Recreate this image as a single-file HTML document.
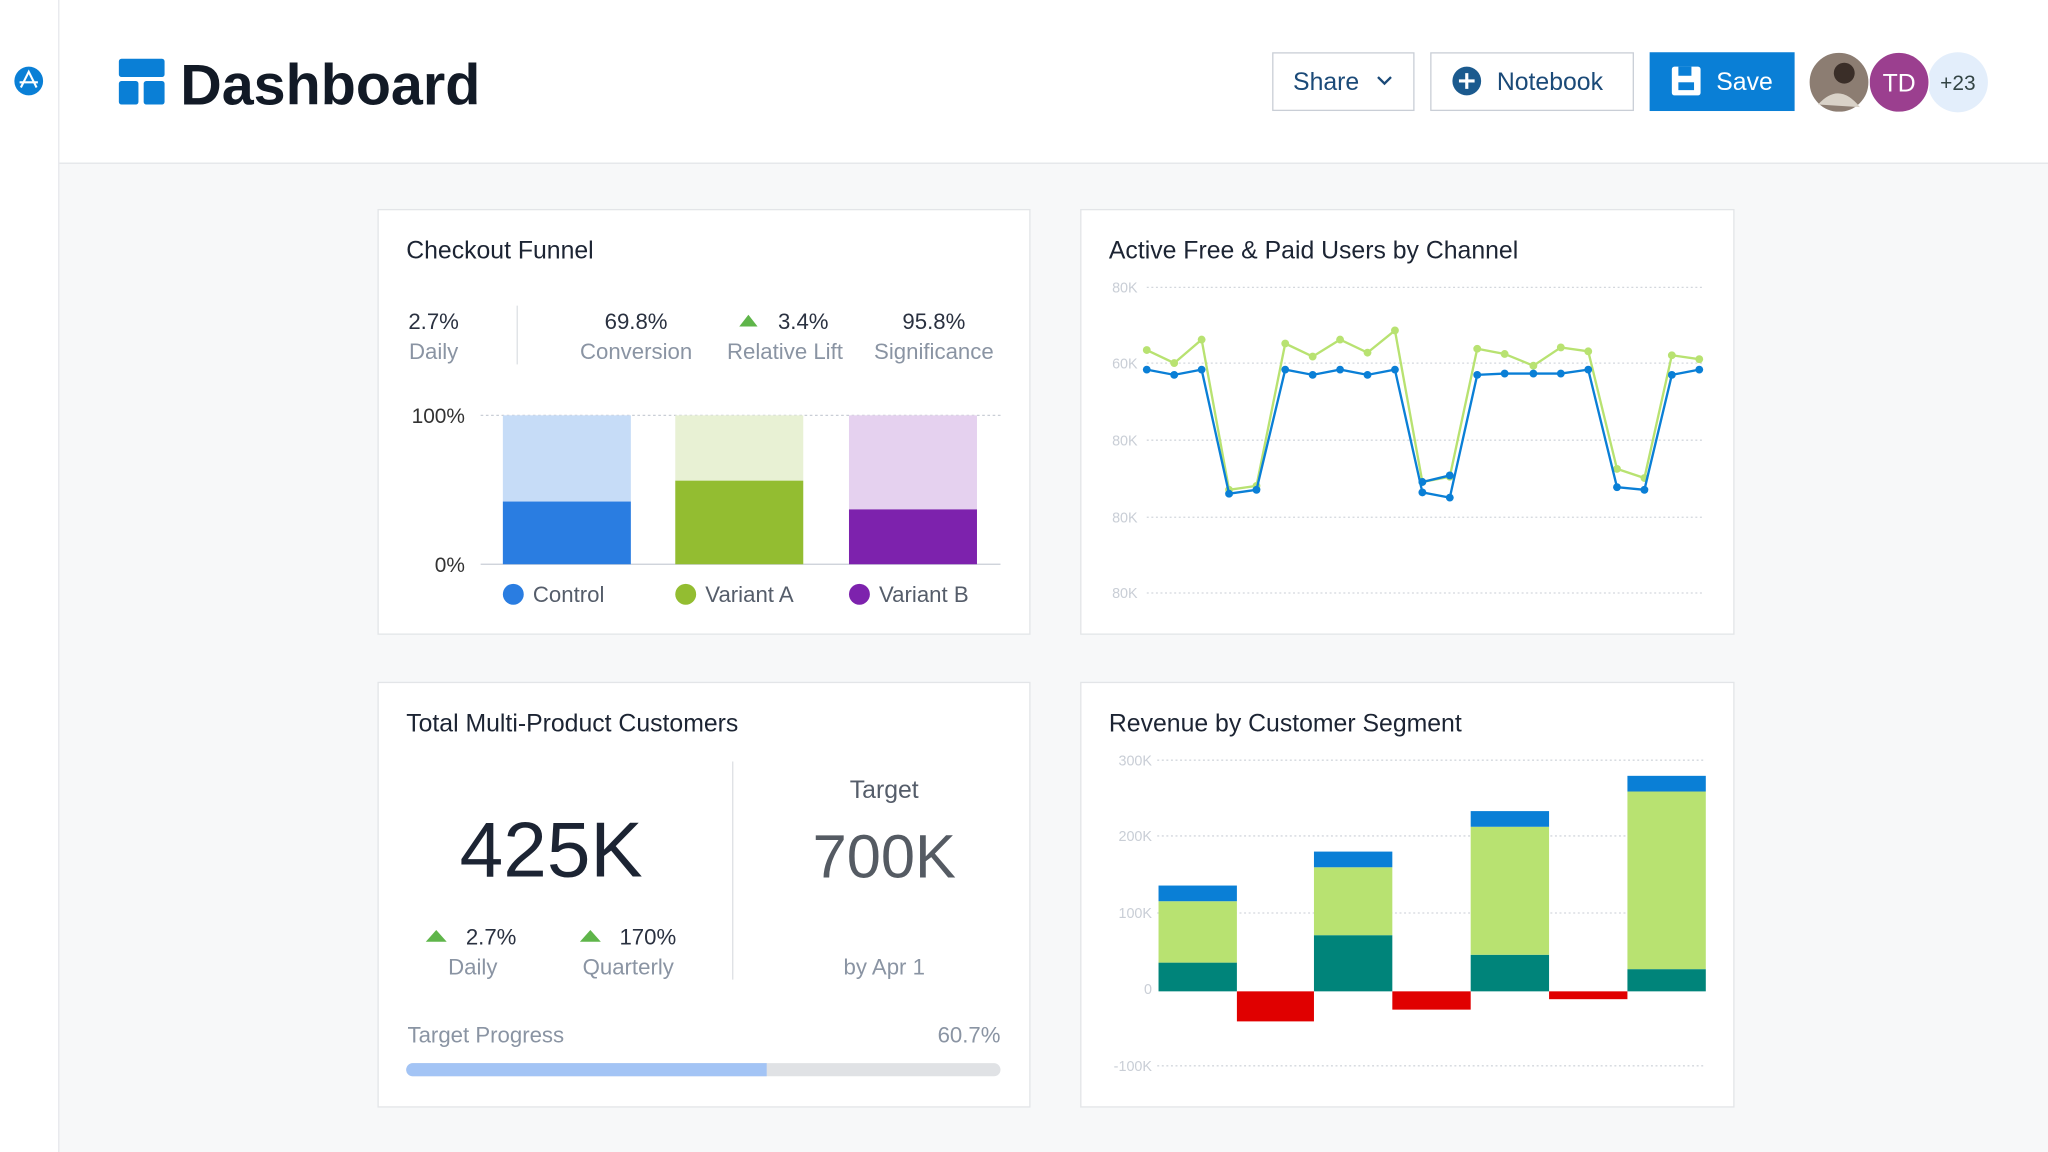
<!DOCTYPE html>
<html><head><meta charset="utf-8"><style>
html,body{margin:0;padding:0;background:#f7f8f9;}
svg{display:block;font-family:"Liberation Sans",sans-serif;}
</style></head><body>
<svg width="2048" height="1152" viewBox="0 0 1568 882" xmlns="http://www.w3.org/2000/svg">
<rect x="0" y="0" width="1568" height="882" fill="#f7f8f9"/>
<rect x="0" y="0" width="1568" height="125" fill="#fff"/>
<rect x="0" y="0" width="45" height="882" fill="#fff"/>
<line x1="45" y1="0" x2="45" y2="882" stroke="#e6e8eb" stroke-width="1"/>
<line x1="45" y1="125" x2="1568" y2="125" stroke="#e6e8eb" stroke-width="1.2"/>
<!-- sidebar icon -->
<circle cx="22" cy="62" r="11" fill="#0a7fd6"/>
<path d="M16 67 L22 55 L28 67 M15 63 H29" stroke="#fff" stroke-width="1.6" fill="none"/>
<!-- logo -->
<rect x="91" y="45" width="35" height="14" rx="2" fill="#0a7fd6"/>
<rect x="91" y="62" width="15" height="18" rx="2" fill="#0a7fd6"/>
<rect x="110" y="62" width="16" height="18" rx="2" fill="#0a7fd6"/>
<text x="138" y="80" font-size="44" font-weight="bold" fill="#121a26">Dashboard</text>
<!-- buttons -->
<rect x="974.5" y="40.5" width="108" height="44" fill="#fff" stroke="#c9ced6"/>
<text x="990" y="69" font-size="19" fill="#1b4a78">Share</text>
<path d="M1055 59 L1060 64 L1065 59" stroke="#1b4a78" stroke-width="1.8" fill="none"/>
<rect x="1095.5" y="40.5" width="155" height="44" fill="#fff" stroke="#c9ced6"/>
<circle cx="1123" cy="62" r="11" fill="#1b5a8e"/>
<path d="M1123 56 V68 M1117 62 H1129" stroke="#fff" stroke-width="2.4"/>
<text x="1146" y="69" font-size="19" fill="#1b4a78">Notebook</text>
<rect x="1263" y="40" width="111" height="45" fill="#0a7fd6"/>
<rect x="1280" y="51" width="22" height="22" rx="2" fill="#fff"/>
<rect x="1285" y="51" width="10" height="7" fill="#0a7fd6"/>
<rect x="1285" y="63" width="12" height="6" fill="#0a7fd6"/>
<text x="1314" y="69" font-size="19" fill="#fff">Save</text>
<circle cx="1499" cy="63" r="23" fill="#e3eefb"/>
<text x="1499" y="69" font-size="16" fill="#344" text-anchor="middle">+23</text>
<circle cx="1454" cy="63" r="23" fill="#9b3f8f" stroke="#fff" stroke-width="1"/>
<text x="1454" y="70" font-size="19" fill="#fff" text-anchor="middle">TD</text>
<circle cx="1408" cy="63" r="23" fill="#8c7d72" stroke="#fff" stroke-width="1"/>
<circle cx="1412" cy="56" r="8" fill="#3a2e28"/>
<path d="M1392 80 Q1408 62 1424 82" fill="#d9d2c8"/>

<!-- cards -->
<rect x="289.5" y="160.5" width="499" height="325" fill="#fff" stroke="#e3e5e8"/>
<rect x="827.5" y="160.5" width="500" height="325" fill="#fff" stroke="#e3e5e8"/>
<rect x="289.5" y="522.5" width="499" height="325" fill="#fff" stroke="#e3e5e8"/>
<rect x="827.5" y="522.5" width="500" height="325" fill="#fff" stroke="#e3e5e8"/>

<!-- Card 1 -->
<text x="311" y="198" font-size="19" fill="#1c2433">Checkout Funnel</text>
<g font-size="17" text-anchor="middle">
<text x="332" y="252" fill="#2a3140">2.7%</text>
<text x="332" y="275" fill="#8a94a3">Daily</text>
<text x="487" y="252" fill="#2a3140">69.8%</text>
<text x="487" y="275" fill="#8a94a3">Conversion</text>
<text x="615" y="252" fill="#2a3140">3.4%</text>
<text x="601" y="275" fill="#8a94a3">Relative Lift</text>
<text x="715" y="252" fill="#2a3140">95.8%</text>
<text x="715" y="275" fill="#8a94a3">Significance</text>
</g>
<path d="M566 250 L573 241 L580 250 Z" fill="#5fb54a"/>
<line x1="396" y1="234" x2="396" y2="279" stroke="#dde0e4"/>
<text x="356" y="324" font-size="16" fill="#333" text-anchor="end">100%</text>
<text x="356" y="438" font-size="16" fill="#333" text-anchor="end">0%</text>
<line x1="368" y1="318" x2="766" y2="318" stroke="#c9ced6" stroke-dasharray="2,2"/>
<line x1="368" y1="432" x2="766" y2="432" stroke="#c9ced6"/>
<rect x="385" y="318" width="98" height="66" fill="#c6dcf7"/>
<rect x="385" y="384" width="98" height="48" fill="#2a7de1"/>
<rect x="517" y="318" width="98" height="50" fill="#e8f1d4"/>
<rect x="517" y="368" width="98" height="64" fill="#93bd31"/>
<rect x="650" y="318" width="98" height="72" fill="#e5d1ef"/>
<rect x="650" y="390" width="98" height="42" fill="#7d22ad"/>
<g font-size="17" fill="#555d6a">
<circle cx="393" cy="455" r="8" fill="#2a7de1"/><text x="408" y="461">Control</text>
<circle cx="525" cy="455" r="8" fill="#93bd31"/><text x="540" y="461">Variant A</text>
<circle cx="658" cy="455" r="8" fill="#7d22ad"/><text x="673" y="461">Variant B</text>
</g>

<!-- Card 2 -->
<text x="849" y="198" font-size="19" fill="#1c2433">Active Free &amp; Paid Users by Channel</text>
<g font-size="11" fill="#c9ced6" text-anchor="end">
<text x="871" y="224">80K</text><text x="871" y="282">60K</text><text x="871" y="341">80K</text><text x="871" y="400">80K</text><text x="871" y="458">80K</text>
</g>
<g stroke="#d3d7dd" stroke-dasharray="1.5,2">
<line x1="878" y1="220" x2="1305" y2="220"/><line x1="878" y1="278" x2="1305" y2="278"/><line x1="878" y1="337" x2="1305" y2="337"/><line x1="878" y1="396" x2="1305" y2="396"/><line x1="878" y1="454" x2="1305" y2="454"/>
</g>
<polyline fill="none" stroke="#b8e271" stroke-width="1.8" points="878,268 899,278 920,260 941,375 962,372 984,263 1005,273 1026,260 1047,270 1068,253 1089,369 1110,365 1131,267 1152,271 1174,280 1195,266 1216,269 1238,359 1259,366 1280,272 1301,275"/>
<g fill="#b8e271">
<circle cx="878" cy="268" r="3"/><circle cx="899" cy="278" r="3"/><circle cx="920" cy="260" r="3"/><circle cx="941" cy="375" r="3"/><circle cx="962" cy="372" r="3"/><circle cx="984" cy="263" r="3"/><circle cx="1005" cy="273" r="3"/><circle cx="1026" cy="260" r="3"/><circle cx="1047" cy="270" r="3"/><circle cx="1068" cy="253" r="3"/><circle cx="1089" cy="369" r="3"/><circle cx="1110" cy="365" r="3"/><circle cx="1131" cy="267" r="3"/><circle cx="1152" cy="271" r="3"/><circle cx="1174" cy="280" r="3"/><circle cx="1195" cy="266" r="3"/><circle cx="1216" cy="269" r="3"/><circle cx="1238" cy="359" r="3"/><circle cx="1259" cy="366" r="3"/><circle cx="1280" cy="272" r="3"/><circle cx="1301" cy="275" r="3"/>
</g>
<polyline fill="none" stroke="#0a7fd6" stroke-width="1.8" points="878,283 899,287 920,283 941,378 962,375 984,283 1005,287 1026,283 1047,287 1068,283 1089,377 1110,381 1131,287 1152,286 1174,286 1195,286 1216,283 1238,373 1259,375 1280,287 1301,283"/>
<polyline fill="none" stroke="#0a7fd6" stroke-width="1.8" points="1089,369 1110,364"/>
<g fill="#0a7fd6">
<circle cx="878" cy="283" r="3"/><circle cx="899" cy="287" r="3"/><circle cx="920" cy="283" r="3"/><circle cx="941" cy="378" r="3"/><circle cx="962" cy="375" r="3"/><circle cx="984" cy="283" r="3"/><circle cx="1005" cy="287" r="3"/><circle cx="1026" cy="283" r="3"/><circle cx="1047" cy="287" r="3"/><circle cx="1068" cy="283" r="3"/><circle cx="1089" cy="377" r="3"/><circle cx="1110" cy="381" r="3"/><circle cx="1089" cy="369" r="3"/><circle cx="1110" cy="364" r="3"/><circle cx="1131" cy="287" r="3"/><circle cx="1152" cy="286" r="3"/><circle cx="1174" cy="286" r="3"/><circle cx="1195" cy="286" r="3"/><circle cx="1216" cy="283" r="3"/><circle cx="1238" cy="373" r="3"/><circle cx="1259" cy="375" r="3"/><circle cx="1280" cy="287" r="3"/><circle cx="1301" cy="283" r="3"/>
</g>

<!-- Card 3 -->
<text x="311" y="560" font-size="19" fill="#1c2433">Total Multi-Product Customers</text>
<text x="422" y="671" font-size="60" fill="#1c2433" text-anchor="middle">425K</text>
<path d="M326 721 L334 712 L342 721 Z" fill="#5fb54a"/>
<text x="376" y="723" font-size="17" fill="#2a3140" text-anchor="middle">2.7%</text>
<text x="362" y="746" font-size="17" fill="#8a94a3" text-anchor="middle">Daily</text>
<path d="M444 721 L452 712 L460 721 Z" fill="#5fb54a"/>
<text x="496" y="723" font-size="17" fill="#2a3140" text-anchor="middle">170%</text>
<text x="481" y="746" font-size="17" fill="#8a94a3" text-anchor="middle">Quarterly</text>
<line x1="561" y1="583" x2="561" y2="750" stroke="#dde0e4"/>
<text x="677" y="611" font-size="19" fill="#555d6a" text-anchor="middle">Target</text>
<text x="677" y="672" font-size="47" fill="#555b63" text-anchor="middle">700K</text>
<text x="677" y="746" font-size="17" fill="#8a94a3" text-anchor="middle">by Apr 1</text>
<text x="312" y="798" font-size="17" fill="#8a94a3">Target Progress</text>
<text x="766" y="798" font-size="17" fill="#8a94a3" text-anchor="end">60.7%</text>
<rect x="311" y="814" width="455" height="10" rx="5" fill="#e0e2e5"/>
<path d="M316 814 H587 V824 H316 A5 5 0 0 1 316 814 Z" fill="#a3c4f5"/>

<!-- Card 4 -->
<text x="849" y="560" font-size="19" fill="#1c2433">Revenue by Customer Segment</text>
<g font-size="11" fill="#c9ced6" text-anchor="end">
<text x="882" y="586">300K</text><text x="882" y="644">200K</text><text x="882" y="703">100K</text><text x="882" y="761">0</text><text x="882" y="820">-100K</text>
</g>
<g stroke="#d3d7dd" stroke-dasharray="1.5,2">
<line x1="886" y1="582" x2="1305" y2="582"/><line x1="886" y1="640" x2="1305" y2="640"/><line x1="886" y1="699" x2="1305" y2="699"/><line x1="886" y1="816" x2="1305" y2="816"/>
</g>
<rect x="887" y="737" width="60" height="22" fill="#00847a"/>
<rect x="887" y="690" width="60" height="47" fill="#b8e271"/>
<rect x="887" y="678" width="60" height="12" fill="#0a7fd6"/>
<rect x="947" y="759" width="59" height="23" fill="#e00000"/>
<rect x="1006" y="716" width="60" height="43" fill="#00847a"/>
<rect x="1006" y="664" width="60" height="52" fill="#b8e271"/>
<rect x="1006" y="652" width="60" height="12" fill="#0a7fd6"/>
<rect x="1066" y="759" width="60" height="14" fill="#e00000"/>
<rect x="1126" y="731" width="60" height="28" fill="#00847a"/>
<rect x="1126" y="633" width="60" height="98" fill="#b8e271"/>
<rect x="1126" y="621" width="60" height="12" fill="#0a7fd6"/>
<rect x="1186" y="759" width="60" height="6" fill="#e00000"/>
<rect x="1246" y="742" width="60" height="17" fill="#00847a"/>
<rect x="1246" y="606" width="60" height="136" fill="#b8e271"/>
<rect x="1246" y="594" width="60" height="12" fill="#0a7fd6"/>
</svg>
</body></html>
